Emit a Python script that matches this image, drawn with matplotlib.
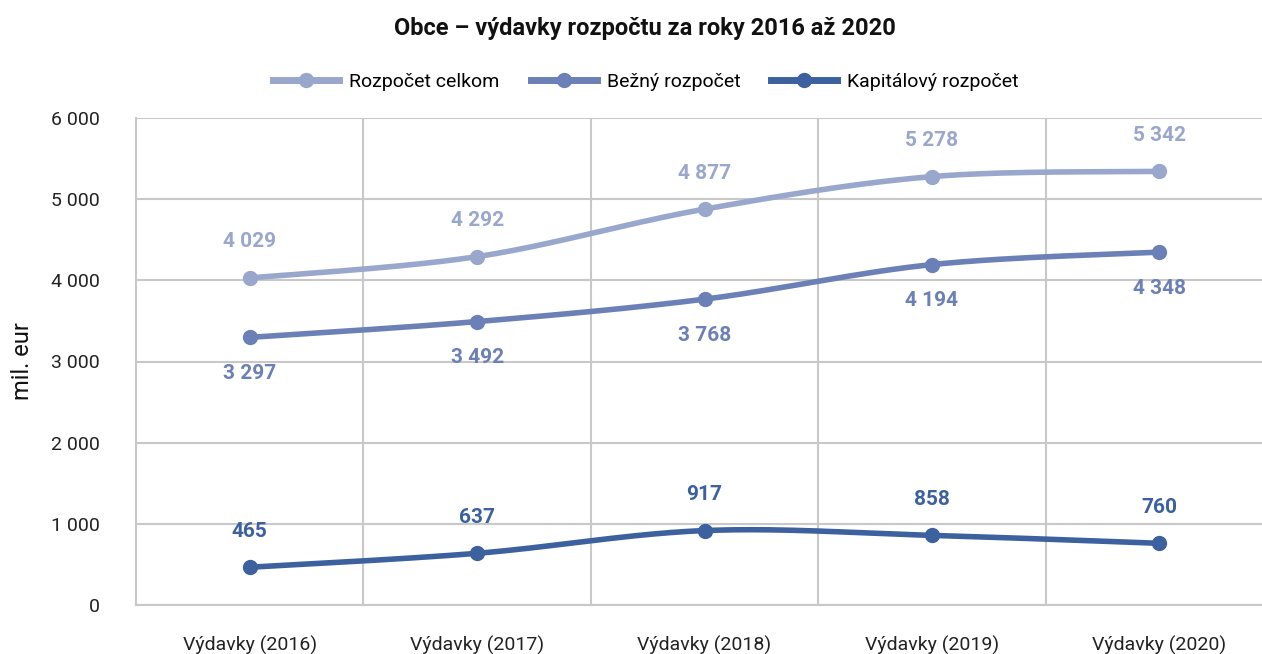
import numpy as np
import matplotlib
matplotlib.use("Agg")
import matplotlib.pyplot as plt
from matplotlib import font_manager
from matplotlib.lines import Line2D

categories = ["Výdavky (2016)", "Výdavky (2017)", "Výdavky (2018)", "Výdavky (2019)", "Výdavky (2020)"]
rozpocet_celkom = [4029, 4292, 4877, 5278, 5342]
bezny_rozpocet = [3297, 3492, 3768, 4194, 4348]
kapitalovy_rozpocet = [465, 637, 917, 858, 760]
series_names = ["Rozpočet celkom", "Bežný rozpočet", "Kapitálový rozpočet"]
y_ticks = [0, 1000, 2000, 3000, 4000, 5000, 6000]

available = {f.name for f in font_manager.fontManager.ttflist}
fam = [f for f in ["Liberation Sans Narrow", "Roboto", "DejaVu Sans"] if f in available]
plt.rcParams['font.family'] = fam

colors = ["#9AA7CD", "#6B80B6", "#3C619E"]
label_pos = ["above", "below", "above"]

def smooth(xs, ys, n=40):
    xs = np.asarray(xs, float); ys = np.asarray(ys, float)
    px = np.concatenate([[xs[0]], xs, [xs[-1]]])
    py = np.concatenate([[ys[0]], ys, [ys[-1]]])
    outx, outy = [], []
    t = np.linspace(0, 1, n)
    for i in range(1, len(px) - 2):
        p0, p1, p2, p3 = (np.array([px[j], py[j]]) for j in (i - 1, i, i + 1, i + 2))
        c1 = p1 + (p2 - p0) / 6
        c2 = p2 - (p3 - p1) / 6
        pts = ((1 - t)[:, None] ** 3 * p1 + 3 * ((1 - t) ** 2 * t)[:, None] * c1
               + 3 * ((1 - t) * t ** 2)[:, None] * c2 + (t ** 3)[:, None] * p2)
        outx.extend(pts[:, 0]); outy.extend(pts[:, 1])
    return np.array(outx), np.array(outy)

fig = plt.figure(figsize=(12.62, 6.54), dpi=100)
ax = fig.add_axes([136 / 1262, 49 / 654, 1137 / 1262, 487 / 654])

x = np.arange(len(categories))
data = [rozpocet_celkom, bezny_rozpocet, kapitalovy_rozpocet]
for vals, name, c, pos in zip(data, series_names, colors, label_pos):
    sx, sy = smooth(x, vals)
    ax.plot(sx, sy, color=c, lw=4, solid_capstyle='round', zorder=3)
    ax.plot(x, vals, 'o', color=c, ms=10, zorder=4)
    for xi, v in zip(x, vals):
        lbl = f"{v:,}".replace(",", " ")
        off = 26 if pos == "above" else -26
        ax.annotate(lbl, (xi, v), xytext=(0, off), textcoords='offset points',
                    ha='center', va='center', color=c, fontsize=15, fontweight='bold', zorder=5)

handles = [Line2D([0], [0], color=c, lw=5, marker='o', ms=10) for c in colors]
fig.legend(handles, series_names, loc='center', bbox_to_anchor=(646 / 1262, 1 - 82 / 654),
           ncol=3, frameon=False, fontsize=14, handlelength=3.4, columnspacing=1.6, handletextpad=0.5)

ax.set_xlim(-0.5, 4.5)
ax.set_ylim(0, 6000)
ax.set_yticks(y_ticks)
ax.set_yticklabels([f"{t:,}".replace(",", " ") for t in y_ticks], fontsize=14, color="#222222")
ax.set_xticks(x)
ax.set_xticklabels(categories, fontsize=14, color="#222222")
ax.tick_params(axis='both', length=0)
ax.tick_params(axis='x', pad=22)
ax.tick_params(axis='y', pad=26)
ax.set_xticks(np.arange(0.5, 4.5, 1), minor=True)
ax.grid(axis='y', color='#C8C8C8', lw=1.5, zorder=0)
ax.grid(axis='x', which='minor', color='#C8C8C8', lw=1.5, zorder=0)
ax.tick_params(axis='x', which='minor', length=0)
for s in ['top', 'right']:
    ax.spines[s].set_visible(False)
for s in ['left', 'bottom']:
    ax.spines[s].set_color('#C8C8C8')
    ax.spines[s].set_linewidth(1.5)
ax.set_ylabel("mil. eur", fontsize=17, color="#111111", labelpad=12)

fig.text(645 / 1262, 1 - 28 / 654, "Obce – výdavky rozpočtu za roky 2016 až 2020",
         ha='center', va='center', fontsize=17, fontweight='bold', color='#111111')

fig.savefig("out.png", dpi=100)
